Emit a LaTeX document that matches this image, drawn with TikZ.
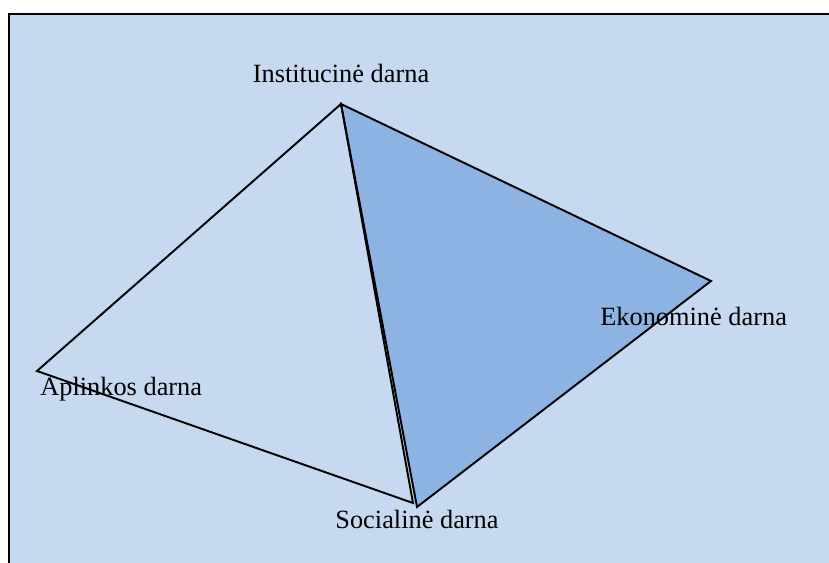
\documentclass[tikz,border=0pt]{standalone}
\usepackage{fontspec}
\setmainfont{Liberation Serif}
\definecolor{bgblue}{HTML}{C6D9F0}
\definecolor{midblue}{HTML}{8DB3E2}

\begin{document}
\begin{tikzpicture}[x=0.02cm,y=-0.02cm,font=\fontsize{15}{17}\selectfont]
\useasboundingbox (0,0) rectangle (829,563);
\fill[bgblue] (9,14) rectangle (829,563);
\draw[line width=1.3pt] (9,563) -- (9,14) -- (829,14);
\path (341,104) coordinate (I) (37,371) coordinate (A) (413,503) coordinate (S) (417,507) coordinate (Sr) (711,281) coordinate (E);
\draw[line width=1.1pt,fill=midblue] (I) -- (E) -- (Sr) -- cycle;
\draw[line width=1.1pt] (I) -- (A) -- (S) -- cycle;
\node[inner sep=0] (inst) at (341,73) {Institucinė darna};
\node[anchor=west,inner sep=0] (apl) at (40,389) {Aplinkos darna};
\node[anchor=west,inner sep=0] (eko) at (600,316) {Ekonominė darna};
\node[inner sep=0] (soc) at (417,519) {Socialinė darna};
\end{tikzpicture}
\end{document}
